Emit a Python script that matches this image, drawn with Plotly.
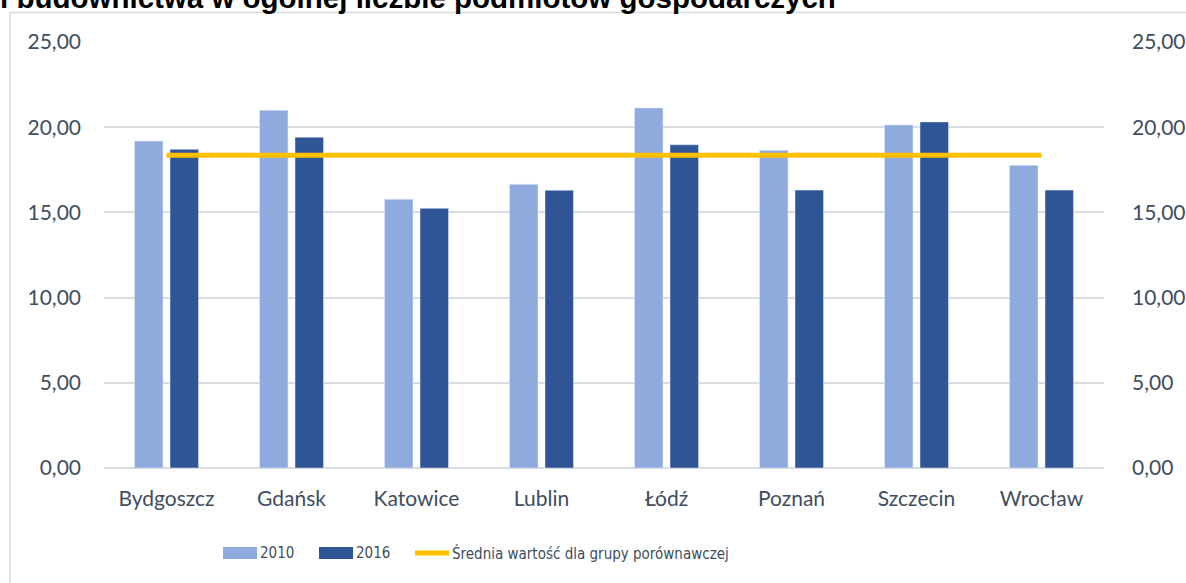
import plotly.graph_objects as go

# Miasta i udział podmiotów (w %) w latach 2010 i 2016
cities = ["Bydgoszcz", "Gdańsk", "Katowice", "Lublin", "Łódź", "Poznań", "Szczecin", "Wrocław"]
values_2010 = [19.19, 20.99, 15.77, 16.65, 21.13, 18.64, 20.13, 17.76]
values_2016 = [18.70, 19.41, 15.24, 16.30, 18.97, 16.31, 20.31, 16.31]
group_mean = [18.35] * len(cities)
y_ticks = [0, 5, 10, 15, 20, 25]

NAME_2010 = "2010"
NAME_2016 = "2016"
NAME_MEAN = "Średnia wartość dla grupy porównawczej"

C_2010 = "#8faadc"
C_2016 = "#2f5597"
C_MEAN = "#ffc000"
TEXT = "#404d5e"
GRID = "#d9dde3"
FONT = "Lato"
LEGEND_FONT = "DejaVu Sans Condensed, Lato"

# plot area in pixels: x 104..1104, y 42..468
L, R, T, B = 104, 82, 42, 115
PW, PH = 1186 - L - R, 583 - T - B


def px_x(px):
    return (px - L) / PW


def px_y(py):
    return (583 - B - py) / PH


fig = go.Figure()
fig.add_trace(go.Bar(name=NAME_2010, x=cities, y=values_2010, marker_color=C_2010))
fig.add_trace(go.Bar(name=NAME_2016, x=cities, y=values_2016, marker_color=C_2016))
fig.add_trace(go.Scatter(
    name=NAME_MEAN, x=cities, y=group_mean,
    mode="lines", line=dict(color=C_MEAN, width=5), yaxis="y2",
))

# legend row drawn below the axis: wide swatches followed by labels
leg_y = 553
swatches = [
    dict(type="rect", xref="paper", yref="paper", x0=px_x(223), x1=px_x(257),
         y0=px_y(559), y1=px_y(547), fillcolor=C_2010, line=dict(width=0)),
    dict(type="rect", xref="paper", yref="paper", x0=px_x(319), x1=px_x(353),
         y0=px_y(559), y1=px_y(547), fillcolor=C_2016, line=dict(width=0)),
    dict(type="line", xref="paper", yref="paper", x0=px_x(415), x1=px_x(449),
         y0=px_y(leg_y), y1=px_y(leg_y), line=dict(color=C_MEAN, width=5)),
]
legend_labels = [
    dict(text=NAME_2010, x=px_x(259)),
    dict(text=NAME_2016, x=px_x(355)),
    dict(text=NAME_MEAN, x=px_x(451)),
]
legend_annots = [
    dict(text=it["text"], xref="paper", yref="paper", x=it["x"], xanchor="left",
         y=px_y(leg_y), yanchor="middle", showarrow=False, borderpad=0,
         font=dict(family=LEGEND_FONT, size=15, color=TEXT))
    for it in legend_labels
]

frame = dict(type="rect", xref="paper", yref="paper", x0=px_x(10), x1=1.3,
             y0=-0.6, y1=px_y(12.5), line=dict(color="#d9d9d9", width=1.5),
             fillcolor="rgba(0,0,0,0)", layer="below")

title = dict(text="<b>i budownictwa w ogólnej liczbie podmiotów gospodarczych</b>",
             xref="paper", yref="paper", x=px_x(-2), xanchor="left",
             y=px_y(16), yanchor="bottom", showarrow=False,
             font=dict(family="Liberation Sans", size=29.5, color="black"))

fig.update_layout(
    width=1186, height=583,
    margin=dict(l=L, r=R, t=T, b=B, autoexpand=False),
    paper_bgcolor="white", plot_bgcolor="white",
    separators=", ",
    barmode="group", bargap=0.432, bargroupgap=0.197,
    font=dict(family=FONT, size=21, color=TEXT),
    showlegend=False,
    xaxis=dict(showgrid=False, showline=False, ticks="", ticklabelstandoff=16,
               automargin=False, tickfont=dict(family=FONT, size=21, color=TEXT)),
    yaxis=dict(range=[0, 25], tickvals=y_ticks, tickformat=".2f", showgrid=True,
               gridcolor=GRID, gridwidth=1.5, zeroline=True, zerolinecolor=GRID,
               zerolinewidth=1.5, showline=False, ticks="", ticklabelstandoff=22,
               automargin=False, tickfont=dict(family=FONT, size=21, color=TEXT)),
    yaxis2=dict(range=[0, 25], tickvals=y_ticks, tickformat=".2f", overlaying="y",
                side="right", showgrid=False, zeroline=False, showline=False, ticks="",
                ticklabelstandoff=27, automargin=False,
                tickfont=dict(family=FONT, size=21, color=TEXT)),
    shapes=[frame] + swatches,
    annotations=[title] + legend_annots,
)

fig.write_html("out.html")
